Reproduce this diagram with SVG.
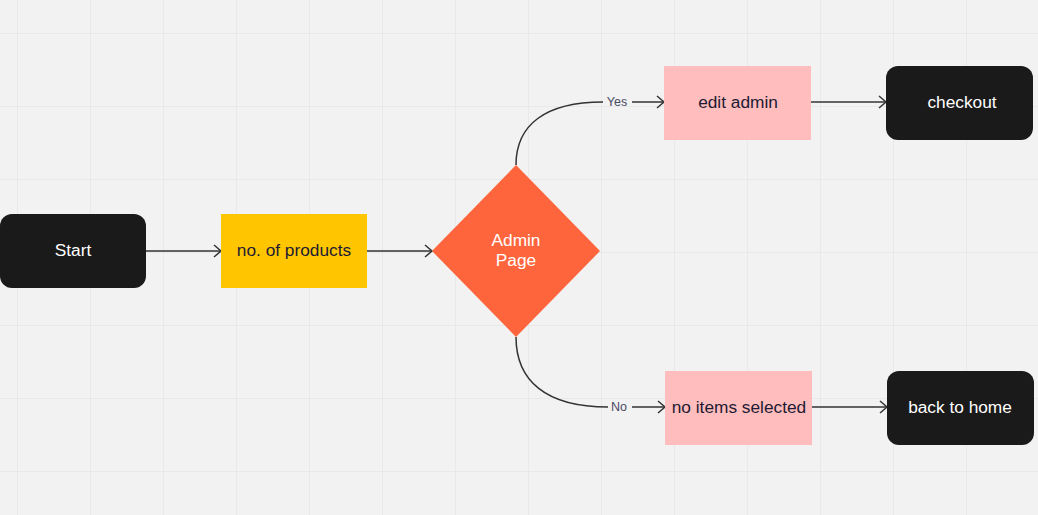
<svg xmlns="http://www.w3.org/2000/svg" width="1038" height="515" viewBox="0 0 1038 515">
<defs>
<pattern id="grid" x="17" y="33" width="73" height="73" patternUnits="userSpaceOnUse">
<path d="M0,0 H73 M0,0 V73" fill="none" stroke="#e6e6e6" stroke-width="1.5"/>
</pattern>
<marker id="arr" markerWidth="12" markerHeight="14" refX="10" refY="7" orient="auto" markerUnits="userSpaceOnUse">
<path d="M3,1 L10,7 L3,13" fill="none" stroke="#333" stroke-width="1.5"/>
</marker>
<style>
.t{font-family:"Liberation Sans",Arial,sans-serif;font-size:17.3px;text-anchor:middle;dominant-baseline:central}
.w{fill:#ffffff}
.d{fill:#1e1a33}
.lbl{font-family:"Liberation Sans",Arial,sans-serif;font-size:12.5px;fill:#4a4a66;text-anchor:middle;dominant-baseline:central}
.c{fill:none;stroke:#333;stroke-width:1.5}
.blk{fill:#1a1a1a}
.pink{fill:#ffbdbd}
</style>
</defs>
<rect width="1038" height="515" fill="#f2f2f2"/>
<rect width="1038" height="515" fill="url(#grid)"/>
<g id="connectors">
<path class="c" d="M146,251 H221" marker-end="url(#arr)"/>
<path class="c" d="M367,251 H432" marker-end="url(#arr)"/>
<path class="c" d="M516,165 C516,125 545,102 603,102"/>
<path class="c" d="M632,102 H664" marker-end="url(#arr)"/>
<path class="c" d="M516,337 C516,380 545,407 608,407"/>
<path class="c" d="M632,407 H665" marker-end="url(#arr)"/>
<path class="c" d="M811,102 H886" marker-end="url(#arr)"/>
<path class="c" d="M812,407 H887" marker-end="url(#arr)"/>
<text class="lbl" x="617" y="102">Yes</text>
<text class="lbl" x="619" y="407">No</text>
</g>
<g id="start">
<rect class="blk" x="0" y="214" width="146" height="74" rx="12"/>
<text class="t w" x="73" y="250">Start</text>
</g>
<g id="products">
<rect x="221" y="214" width="146" height="74" fill="#ffc600"/>
<text class="t d" x="294" y="250">no. of products</text>
</g>
<g id="admin">
<polygon points="516,165 600,251 516,337 432,251" fill="#ff653d"/>
<text class="t w" x="516" y="240">Admin</text>
<text class="t w" x="516" y="260">Page</text>
</g>
<g id="edit">
<rect class="pink" x="664" y="66" width="147" height="74"/>
<text class="t d" x="738" y="102">edit admin</text>
</g>
<g id="checkout">
<rect class="blk" x="886" y="66" width="147" height="74" rx="12"/>
<text class="t w" x="962" y="102">checkout</text>
</g>
<g id="noitems">
<rect class="pink" x="665" y="371" width="147" height="74"/>
<text class="t d" x="739" y="407">no items selected</text>
</g>
<g id="home">
<rect class="blk" x="887" y="371" width="147" height="74" rx="12"/>
<text class="t w" x="960" y="407">back to home</text>
</g>
</svg>
